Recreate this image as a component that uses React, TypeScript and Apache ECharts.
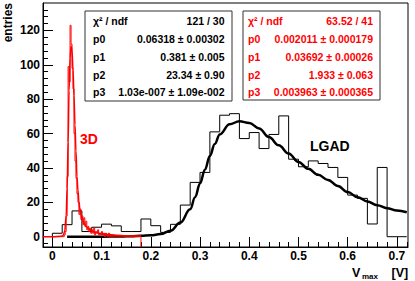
import React, { useEffect, useRef } from 'react';
import * as echarts from 'echarts';

// ---- axis ranges & ticks ----
const X_MIN = -0.019;
const X_MAX = 0.7225;
const Y_MIN = -6;
const Y_MAX = 136;
const xTicks = [0, 0.1, 0.2, 0.3, 0.4, 0.5, 0.6, 0.7];
const xMinorTicks = [0.02, 0.04, 0.06, 0.08, 0.12, 0.14, 0.16, 0.18, 0.22, 0.24, 0.26, 0.28, 0.32, 0.34, 0.36, 0.38, 0.42, 0.44, 0.46, 0.48, 0.52, 0.54, 0.56, 0.58, 0.62, 0.64, 0.66, 0.68, 0.72];
const yTicks = [0, 20, 40, 60, 80, 100, 120];
const yMinorTicks = [-4, 4, 8, 12, 16, 24, 28, 32, 36, 44, 48, 52, 56, 64, 68, 72, 76, 84, 88, 92, 96, 104, 108, 112, 116, 124, 128, 132];

// ---- LGAD histogram (bin width 0.02 starting at 0) ----
const lgadStart = 0;
const lgadWidth = 0.02;
const lgadCounts = [2, 7, 15, 3, 5.5, 7.3, 6.3, 3, 3, 10.3, 6.4, 2.5, 7.2, 18.4, 31.6, 37.4, 61, 70.7, 71.6, 57.1, 60.6, 51.3, 59.5, 70.3, 45.1, 40.7, 44.1, 42.6, 40.3, 34.5, 24.2, 22.3, 7.4, 40.3, 0, 0];

// ---- 3D histogram (bin width 0.002 starting at 0, up to 0.18) ----
const tdStart = 0;
const tdWidth = 0.002;
const tdCounts = [
  0, 0, 0, 0, 0, 0, 0, 0, 0, 0, 0, 0,
  1, 3, 12, 35, 99, 90, 123, 112, 98, 86, 60, 44, 34, 25, 20, 13, 16, 10,
  12, 7, 11, 6, 9, 4, 6, 3, 5, 2, 4, 2, 5, 1, 3, 2, 4, 1, 2, 1,
  3, 1, 2, 0, 2, 1, 0, 2, 0, 1, 0, 1,
  0, 0, 0, 0, 0, 0, 0, 0, 0, 0, 0, 0, 0, 0, 0, 0, 0, 0, 0, 0, 0, 0, 0, 0, 0, 0, 0, 0,
];

// ---- fit curves ----
const lgadFitX = [0.03, 0.06, 0.1, 0.14, 0.16, 0.18, 0.2, 0.22, 0.24, 0.26, 0.28, 0.29, 0.3, 0.31, 0.32, 0.33, 0.34, 0.36, 0.38, 0.4, 0.42, 0.44, 0.46, 0.48, 0.5, 0.52, 0.54, 0.56, 0.58, 0.6, 0.62, 0.64, 0.66, 0.68, 0.7, 0.72];
const lgadFitY = [0, 0, 0, 0.1, 0.3, 0.6, 0.8, 1.5, 3.5, 8.2, 16, 23, 31, 39, 47, 54, 59.5, 65.4, 67.2, 66.2, 63, 58, 53.2, 48.4, 43.5, 39.5, 36, 33, 29.5, 26, 23, 20.5, 18.3, 16.6, 15.2, 14.2];
const tdFitX = [-0.02, 0, 0.018, 0.022, 0.025, 0.028, 0.03, 0.032, 0.034, 0.036, 0.038, 0.04, 0.042, 0.044, 0.046, 0.048, 0.05, 0.052, 0.054, 0.056, 0.06, 0.065, 0.07, 0.077, 0.085, 0.095, 0.11, 0.13, 0.15, 0.18];
const tdFitY = [0, 0, 0.2, 0.8, 3, 12, 28, 55, 85, 104, 111, 108, 97, 82, 65, 50, 35, 27, 20.5, 16, 11, 7.5, 5.5, 3.9, 2.8, 2.0, 1.4, 0.9, 0.6, 0.4];

// ---- stats boxes ----
const statLabels = ['χ² / ndf', 'p0', 'p1', 'p2', 'p3'];
const lgadStats = ['121 / 30', '0.06318 ± 0.00302', '0.381 ± 0.005', '23.34 ± 0.90', '1.03e-007 ± 1.09e-002'];
const tdStats = ['63.52 / 41', '0.002011 ± 0.000179', '0.03692 ± 0.00026', '1.933 ± 0.063', '0.003963 ± 0.000365'];

const FONT = '"Liberation Sans", Arial, Helvetica, sans-serif';

function histSteps(start: number, width: number, counts: number[], endTo: number) {
  const pts: number[][] = [[start, 0]];
  counts.forEach((c, i) => pts.push([start + i * width, c]));
  const end = start + counts.length * width;
  pts.push([end, counts[counts.length - 1]]);
  pts.push([end, endTo]);
  return pts;
}

function statBox(x: number, y: number, w: number, h: number, lx: number, rx: number, values: string[], color: string) {
  const rowsY = [20.5, 38.5, 56.5, 74.5, 92];
  const els: any[] = [
    { type: 'rect', shape: { x, y, width: w, height: h }, style: { fill: '#fff', stroke: '#333', lineWidth: 1 }, z: 10 },
  ];
  statLabels.forEach((t, i) => {
    els.push({ type: 'text', x: lx, y: rowsY[i], z: 11, style: { text: t, fill: color, font: `bold 10.5px ${FONT}`, align: 'left', verticalAlign: 'middle' } });
    els.push({ type: 'text', x: rx, y: rowsY[i], z: 11, style: { text: values[i], fill: color, font: `bold 10.5px ${FONT}`, align: 'right', verticalAlign: 'middle' } });
  });
  return els;
}

export default function App() {
  const ref = useRef<HTMLDivElement>(null);
  useEffect(() => {
    document.body.style.margin = '0';
    const chart = echarts.init(ref.current!, null, { renderer: 'svg' });
    const fmtX = (v: number) => (v === 0 ? '0' : v.toFixed(1));
    const labelStyle = { color: '#000', fontFamily: FONT, fontWeight: 'bold' as const, fontSize: 12 };
    const option: any = {
      animation: false,
      backgroundColor: '#fff',
      grid: { left: 43, right: 7, top: 3, bottom: 34, show: true, borderColor: '#000', borderWidth: 1, backgroundColor: 'transparent' },
      xAxis: [
        {
          type: 'value', min: X_MIN, max: X_MAX, position: 'bottom',
          axisLine: { show: true, onZero: false, lineStyle: { color: '#000', width: 1 } },
          axisTick: { show: true, inside: true, length: 10, customValues: xTicks, lineStyle: { color: '#000' } },
          axisLabel: { show: true, customValues: xTicks, formatter: fmtX, margin: 3, ...labelStyle },
          splitLine: { show: false },
        },
        {
          type: 'value', min: X_MIN, max: X_MAX, position: 'bottom',
          axisLine: { show: false, onZero: false },
          axisTick: { show: true, inside: true, length: 5, customValues: xMinorTicks, lineStyle: { color: '#000' } },
          axisLabel: { show: false, customValues: xMinorTicks },
          splitLine: { show: false },
        },
      ],
      yAxis: [
        {
          type: 'value', min: Y_MIN, max: Y_MAX, position: 'left',
          axisLine: { show: true, onZero: false, lineStyle: { color: '#000', width: 1 } },
          axisTick: { show: true, inside: true, length: 10, customValues: yTicks, lineStyle: { color: '#000' } },
          axisLabel: { show: true, customValues: yTicks, margin: 3, ...labelStyle },
          splitLine: { show: false },
        },
        {
          type: 'value', min: Y_MIN, max: Y_MAX, position: 'left',
          axisLine: { show: false, onZero: false },
          axisTick: { show: true, inside: true, length: 5, customValues: yMinorTicks, lineStyle: { color: '#000' } },
          axisLabel: { show: false, customValues: yMinorTicks },
          splitLine: { show: false },
        },
      ],
      series: [
        {
          type: 'line', name: 'LGAD hist', step: 'end', showSymbol: false, xAxisIndex: 0, yAxisIndex: 0,
          data: histSteps(lgadStart, lgadWidth, lgadCounts, 0),
          lineStyle: { color: '#000', width: 1 }, itemStyle: { color: '#000' },
        },
        {
          type: 'line', name: 'LGAD fit', smooth: 0.4, smoothMonotone: 'x', showSymbol: false, xAxisIndex: 0, yAxisIndex: 0,
          data: lgadFitX.map((x, i) => [x, lgadFitY[i]]),
          lineStyle: { color: '#000', width: 2.5 }, itemStyle: { color: '#000' },
        },
        {
          type: 'line', name: '3D hist', step: 'end', showSymbol: false, xAxisIndex: 0, yAxisIndex: 0,
          data: histSteps(tdStart, tdWidth, tdCounts, Y_MIN),
          lineStyle: { color: '#ff0000', width: 1 }, itemStyle: { color: '#ff0000' },
        },
        {
          type: 'line', name: '3D fit', smooth: 0.4, smoothMonotone: 'x', showSymbol: false, xAxisIndex: 0, yAxisIndex: 0,
          data: tdFitX.map((x, i) => [x, tdFitY[i]]),
          lineStyle: { color: '#ff0000', width: 1.5 }, itemStyle: { color: '#ff0000' },
        },
      ],
      graphic: [
        { type: 'text', x: 8, y: 3, rotation: Math.PI / 2, style: { text: 'entries', fill: '#000', font: `bold 12px ${FONT}`, align: 'right', verticalAlign: 'middle' } },
        { type: 'text', x: 352, y: 273, style: { text: 'V', fill: '#000', font: `bold 12.5px ${FONT}`, align: 'left', verticalAlign: 'middle' } },
        { type: 'text', x: 362, y: 276, style: { text: 'max', fill: '#000', font: `bold 8px ${FONT}`, align: 'left', verticalAlign: 'middle' } },
        { type: 'text', x: 391.5, y: 273, style: { text: '[V]', fill: '#000', font: `bold 12.5px ${FONT}`, align: 'left', verticalAlign: 'middle' } },
        { type: 'text', x: 80, y: 139, style: { text: '3D', fill: '#ff0000', font: `bold 14px ${FONT}`, align: 'left', verticalAlign: 'middle' } },
        { type: 'text', x: 310, y: 145.5, style: { text: 'LGAD', fill: '#000', font: `bold 14px ${FONT}`, align: 'left', verticalAlign: 'middle' } },
        ...statBox(85, 11, 147, 90, 93, 224.5, lgadStats, '#000'),
        ...statBox(243, 11, 137, 89, 248, 373, tdStats, '#ff0000'),
      ],
    };
    chart.setOption(option);
    return () => chart.dispose();
  }, []);
  return <div ref={ref} style={{ width: 415, height: 281, position: 'absolute', left: 0, top: 0 }} />;
}
